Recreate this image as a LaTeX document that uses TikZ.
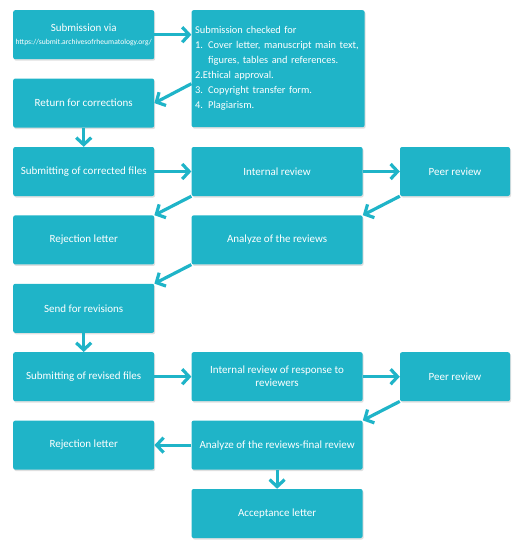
\documentclass[tikz,border=0pt]{standalone}
\usepackage{fontspec}
\setmainfont{Carlito}
\usetikzlibrary{
        arrows.meta,
        positioning,
        shadows
    }
\definecolor{tealbox}{RGB}{31,180,200}
\tikzset{>={Straight Barb[length=7pt,width=15pt]},node distance=19pt and 37pt}
\tikzset{
  box/.style={rectangle, rounded corners=2pt, fill=tealbox, text=white, align=center,
    minimum height=49pt, inner sep=3pt, font=\fontsize{11}{13}\selectfont,
    drop shadow={shadow xshift=1pt, shadow yshift=-1.5pt, opacity=0.25}},
  narrow/.style={box, minimum width=141pt},
  wide/.style={box, minimum width=171pt},
  small/.style={box, minimum width=110pt},
  flow/.style={->, line width=3.2pt, color=tealbox}
}

\begin{document}
\begin{tikzpicture}
        \useasboundingbox (0,0) rectangle (529pt,-550pt);
        \node[narrow, anchor=north west, inner xsep=1pt] (sub) at (13pt,-10pt)
             {Submission via\\{\fontsize{7.6}{9}\selectfont https://submit.archivesofrheumatology.org/}};
        \node[box, right=of sub.north east, anchor=north west, minimum width=173pt,
              minimum height=117pt, text width=166pt, inner xsep=3.5pt, align=left,
              font=\fontsize{10.4}{15}\selectfont] (check)
             {Submission checked for\\
              1. Cover letter, manuscript main text,\\
              \hphantom{1. }figures, tables and references.\\
              2.Ethical approval.\\
              3. Copyright transfer form.\\
              4. Plagiarism.};
        \node[narrow, below=of sub] (ret) {Return for corrections};
        \node[narrow, below=of ret] (corr) {Submitting of corrected files};
        \node[wide, right=of corr] (intrev) {Internal review};
        \node[small, right=of intrev] (peer) {Peer review};
        \node[narrow, below=of corr] (rej) {Rejection letter};
        \node[wide, below=of intrev] (analyze) {Analyze of the reviews};
        \node[narrow, below=of rej] (send) {Send for revisions};
        \node[narrow, below=of send] (revised) {Submitting of revised files};
        \node[wide, right=of revised] (intresp) {Internal review of response to\\reviewers};
        \node[small, right=of intresp] (peertwo) {Peer review};
        \node[narrow, below=of revised] (rejtwo) {Rejection letter};
        \node[wide, below=of intresp] (final) {Analyze of the reviews-final review};
        \node[wide, below=of final] (accept) {Acceptance letter};
        \path[flow] (sub.east) edge (sub.east -| check.west)
                    ([yshift=-15pt]check.west) edge (ret.east)
                    (ret) edge (corr)
                    (corr) edge (intrev)
                    (intrev) edge (peer)
                    (intrev.south west) edge (rej.north east)
                    (peer.south west) edge (analyze.north east)
                    (analyze.south west) edge (send.north east)
                    (send) edge (revised)
                    (revised) edge (intresp)
                    (intresp) edge (peertwo)
                    (peertwo.south west) edge (final.north east)
                    (final) edge (rejtwo)
                    (final) edge (accept);
\end{tikzpicture}
\end{document}
